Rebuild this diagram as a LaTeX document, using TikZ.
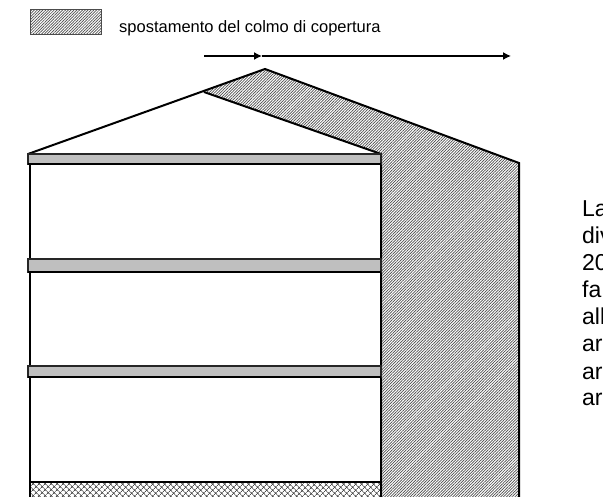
\documentclass[tikz,border=0pt]{standalone}
\usepackage{fontspec}
\setmainfont{Liberation Sans}
\usetikzlibrary{patterns.meta}
\usetikzlibrary{arrows.meta}
\begin{document}
\begin{tikzpicture}[x=1pt,y=-1pt,
		outline/.style={draw,line width=2pt,line join=miter},
		shiftzone/.style={pattern={Lines[angle=45,distance=2pt,line width=0.7pt]},pattern color=black!70},
		slab/.style={draw=black!85,fill=black!25,line width=1.5pt},
		ground/.style={pattern={Hatch[angle=45,distance=4pt,line width=0.7pt]},pattern color=black!70},
		shiftarrow/.style={-{Latex[length=8pt,width=8pt]},line width=1.4pt},
		legendtext/.style={anchor=west,inner sep=0pt,font=\fontsize{16.5}{18}\selectfont},
		sidetext/.style={anchor=base west,inner sep=0pt,font=\fontsize{23}{27}\selectfont}
		]
		\useasboundingbox (0,0) rectangle (603,497);
		\coordinate (eave) at (28,154);
		\coordinate (oldridge) at (204,92);
		\coordinate (ridge) at (265,69);
		\coordinate (corner) at (381,154);
		\coordinate (farwall) at (519,163);
		\coordinate (farbase) at (519,497);
		\coordinate (wallbase) at (381,497);
		% legend
		\draw[shiftzone,draw=black!70,line width=1pt] (30,10) rectangle (101,35);
		\node (legend) [legendtext] at (119,28.5) {spostamento del colmo di copertura};
		% arrows
		\coordinate (arrowa) at (204,56);
		\coordinate (arrowb) at (262,56);
		\coordinate (arrowc) at (511,56);
		\draw[shiftarrow] (arrowa) -- (arrowb);
		\draw[shiftarrow] (arrowb) -- (arrowc);
		% shifted part
		\path[shiftzone] (oldridge) -- (ridge) -- (farwall) -- (farbase) -- (wallbase) -- (corner) -- cycle;
		\path[ground] (29,482) rectangle (381,497);
		% roof and walls
		\draw[outline] (eave) -- (ridge) -- (farwall) -- (farbase);
		\draw[outline] (oldridge) -- (corner) -- (wallbase);
		\draw[outline] (29.5,154) -- (29.5,497);
		\draw[outline] (29,482) -- (381,482);
		% floors
		\foreach \top/\bot in {154/164,259/272,366/377}{
			\draw[slab] (28,\top) rectangle (381,\bot);
			\draw[outline] (28,\bot) -- (381,\bot);
		}
		% side text, cut by the edge
		\node (la) [sidetext] at (582,217) {La};
		\node (div) [sidetext] at (582,244) {div};
		\node (year) [sidetext] at (582,271) {20};
		\node (fa) [sidetext] at (582,298) {fa};
		\node (all) [sidetext] at (582,325) {all};
		\node (ara) [sidetext] at (582,352) {ar};
		\node (arb) [sidetext] at (582,379) {ar};
		\node (arc) [sidetext] at (582,406) {ar};
\end{tikzpicture}
\end{document}
